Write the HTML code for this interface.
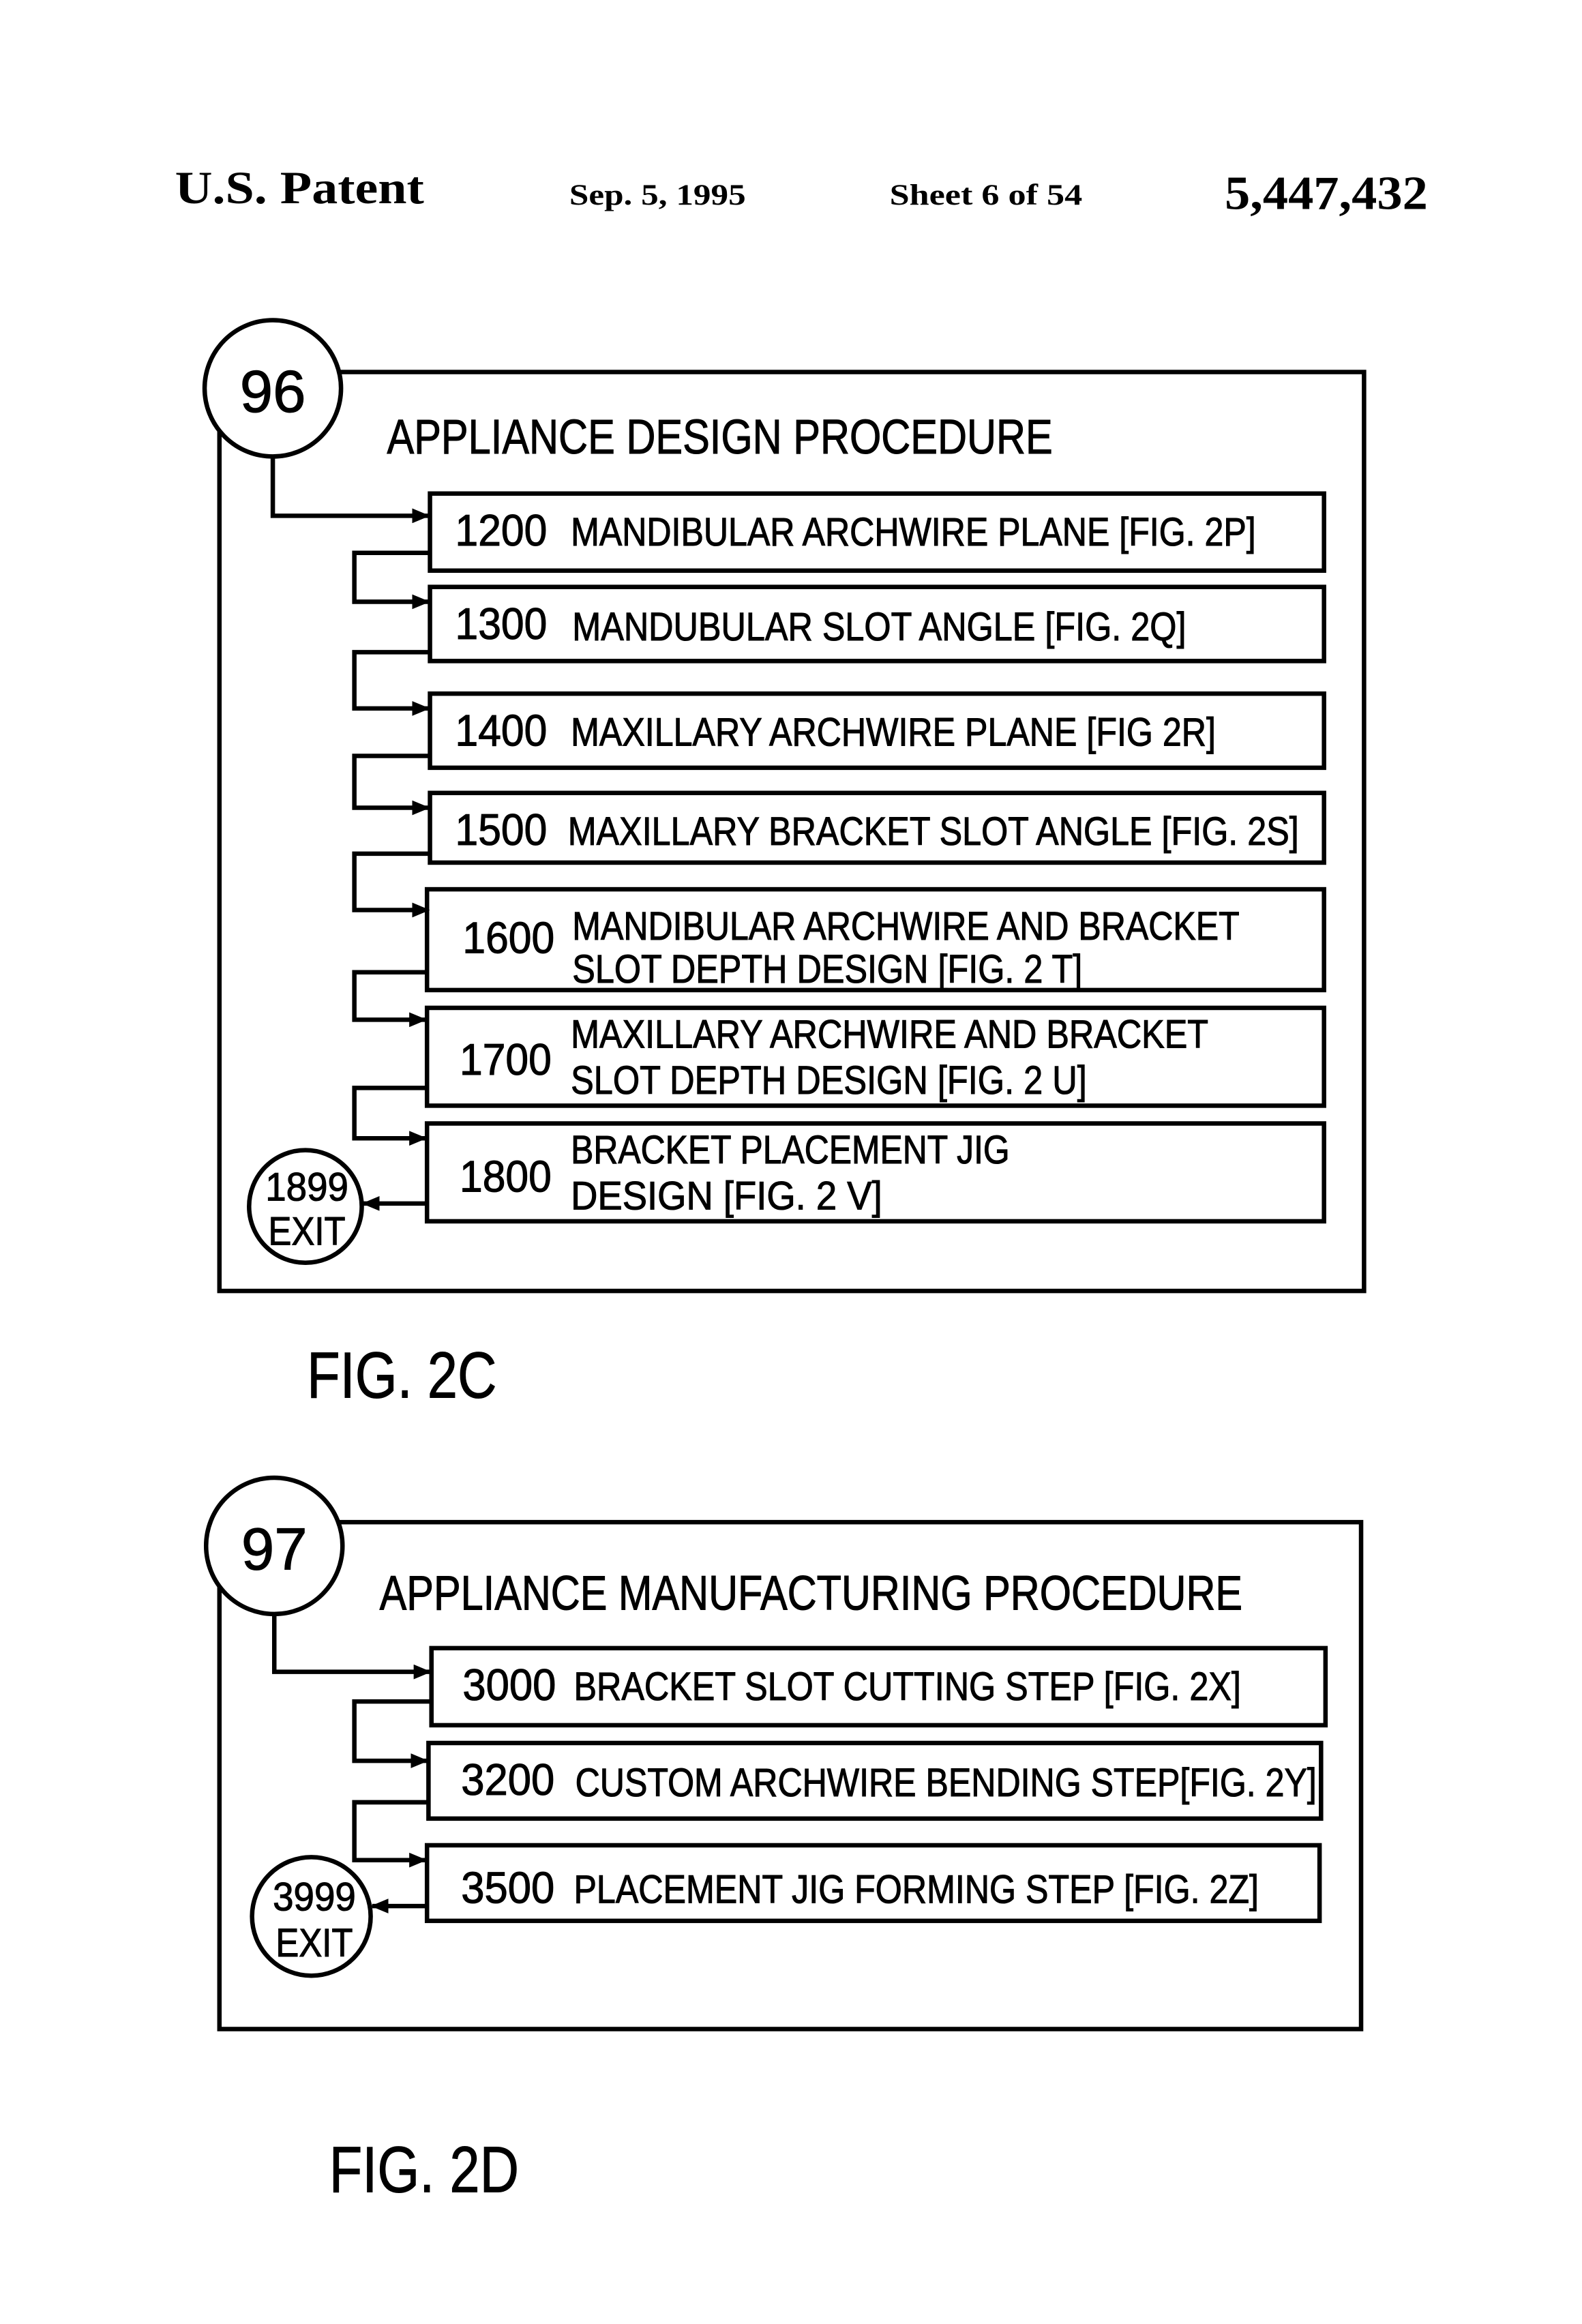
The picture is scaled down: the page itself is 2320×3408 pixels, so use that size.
<!DOCTYPE html>
<html><head><meta charset="utf-8"><style>
html,body{margin:0;padding:0;background:#fff}
svg{display:block}
.n{font-family:"Liberation Sans Narrow","Liberation Sans",sans-serif;fill:#000;stroke:#000;stroke-width:0.5}
.s{font-family:"Liberation Serif",serif;font-weight:bold;fill:#000}
</style></head><body>
<svg width="2320" height="3408" viewBox="0 0 1067 1568" preserveAspectRatio="none" xmlns="http://www.w3.org/2000/svg">
<defs><marker id="a" markerWidth="12" markerHeight="10" refX="11" refY="5" orient="auto" markerUnits="userSpaceOnUse"><path d="M0,0 L12,5 L0,10 z" fill="#000"/></marker></defs>
<text class="s" x="118" y="137" font-size="31" textLength="168" lengthAdjust="spacingAndGlyphs">U.S. Patent</text>
<text class="s" x="384" y="138" font-size="20" textLength="119" lengthAdjust="spacingAndGlyphs">Sep. 5, 1995</text>
<text class="s" x="600" y="138" font-size="20" textLength="130" lengthAdjust="spacingAndGlyphs">Sheet 6 of 54</text>
<text class="s" x="826" y="141" font-size="32" textLength="137" lengthAdjust="spacingAndGlyphs">5,447,432</text>
<g fill="none" stroke="#000" stroke-width="3">
<rect x="148" y="251" width="772" height="620"/>
<rect x="290" y="333" width="603" height="52"/>
<rect x="290" y="396" width="603" height="50"/>
<rect x="290" y="468" width="603" height="50"/>
<rect x="290" y="535" width="603" height="47"/>
<rect x="288" y="600" width="605" height="68"/>
<rect x="288" y="680" width="605" height="66"/>
<rect x="288" y="758" width="605" height="66"/>
<rect x="148" y="1027" width="770" height="342"/>
<rect x="291" y="1112" width="603" height="52"/>
<rect x="289" y="1176" width="602" height="51"/>
<rect x="288" y="1245" width="602" height="51"/>
<path d="M184,308 V348 H289" marker-end="url(#a)"/>
<path d="M290,373 H239 V406 H289" marker-end="url(#a)"/>
<path d="M290,440 H239 V478 H289" marker-end="url(#a)"/>
<path d="M290,510 H239 V545 H289" marker-end="url(#a)"/>
<path d="M290,576 H239 V614 H289" marker-end="url(#a)"/>
<path d="M288,656 H239 V688 H287" marker-end="url(#a)"/>
<path d="M288,734 H239 V768 H287" marker-end="url(#a)"/>
<path d="M288,812 H245" marker-end="url(#a)"/>
<path d="M185,1089 V1128 H290" marker-end="url(#a)"/>
<path d="M291,1148 H239 V1188 H288" marker-end="url(#a)"/>
<path d="M289,1216 H239 V1255 H287" marker-end="url(#a)"/>
<path d="M288,1286 H251" marker-end="url(#a)"/>
</g>
<g fill="#fff" stroke="#000" stroke-width="3">
<circle cx="184" cy="262" r="46"/>
<circle cx="206" cy="814" r="38"/>
<circle cx="185" cy="1043" r="46"/>
<circle cx="210" cy="1293" r="40"/>
</g>
<g class="n">
<text x="184" y="278" font-size="40" text-anchor="middle">96</text>
<text x="185" y="1059" font-size="40" text-anchor="middle">97</text>
<text x="207" y="810" font-size="27" text-anchor="middle" textLength="56" lengthAdjust="spacingAndGlyphs">1899</text>
<text x="207" y="840" font-size="27" text-anchor="middle" textLength="52" lengthAdjust="spacingAndGlyphs">EXIT</text>
<text x="212" y="1289" font-size="27" text-anchor="middle" textLength="56" lengthAdjust="spacingAndGlyphs">3999</text>
<text x="212" y="1320" font-size="27" text-anchor="middle" textLength="52" lengthAdjust="spacingAndGlyphs">EXIT</text>
<text x="261" y="306" font-size="33" textLength="449" lengthAdjust="spacingAndGlyphs">APPLIANCE DESIGN PROCEDURE</text>
<text x="307" y="368" font-size="30" textLength="62" lengthAdjust="spacingAndGlyphs">1200</text>
<text x="385" y="368" font-size="27" textLength="462" lengthAdjust="spacingAndGlyphs">MANDIBULAR ARCHWIRE PLANE [FIG. 2P]</text>
<text x="307" y="431" font-size="30" textLength="62" lengthAdjust="spacingAndGlyphs">1300</text>
<text x="386" y="432" font-size="27" textLength="414" lengthAdjust="spacingAndGlyphs">MANDUBULAR SLOT ANGLE [FIG. 2Q]</text>
<text x="307" y="503" font-size="30" textLength="62" lengthAdjust="spacingAndGlyphs">1400</text>
<text x="385" y="503" font-size="27" textLength="435" lengthAdjust="spacingAndGlyphs">MAXILLARY ARCHWIRE PLANE [FIG 2R]</text>
<text x="307" y="570" font-size="30" textLength="62" lengthAdjust="spacingAndGlyphs">1500</text>
<text x="383" y="570" font-size="27" textLength="493" lengthAdjust="spacingAndGlyphs">MAXILLARY BRACKET SLOT ANGLE [FIG. 2S]</text>
<text x="312" y="643" font-size="30" textLength="62" lengthAdjust="spacingAndGlyphs">1600</text>
<text x="386" y="634" font-size="27" textLength="450" lengthAdjust="spacingAndGlyphs">MANDIBULAR ARCHWIRE AND BRACKET</text>
<text x="386" y="663" font-size="27" textLength="344" lengthAdjust="spacingAndGlyphs">SLOT DEPTH DESIGN [FIG. 2 T]</text>
<text x="310" y="725" font-size="30" textLength="62" lengthAdjust="spacingAndGlyphs">1700</text>
<text x="385" y="707" font-size="27" textLength="430" lengthAdjust="spacingAndGlyphs">MAXILLARY ARCHWIRE AND BRACKET</text>
<text x="385" y="738" font-size="27" textLength="348" lengthAdjust="spacingAndGlyphs">SLOT DEPTH DESIGN [FIG. 2 U]</text>
<text x="310" y="804" font-size="30" textLength="62" lengthAdjust="spacingAndGlyphs">1800</text>
<text x="385" y="785" font-size="27" textLength="296" lengthAdjust="spacingAndGlyphs">BRACKET PLACEMENT JIG</text>
<text x="385" y="816" font-size="27" textLength="210" lengthAdjust="spacingAndGlyphs">DESIGN   [FIG. 2 V]</text>
<text x="207" y="943" font-size="44" textLength="128" lengthAdjust="spacingAndGlyphs">FIG. 2C</text>
<text x="256" y="1086" font-size="33" textLength="582" lengthAdjust="spacingAndGlyphs">APPLIANCE MANUFACTURING PROCEDURE</text>
<text x="312" y="1147" font-size="30" textLength="63" lengthAdjust="spacingAndGlyphs">3000</text>
<text x="387" y="1147" font-size="27" textLength="450" lengthAdjust="spacingAndGlyphs">BRACKET SLOT CUTTING STEP [FIG. 2X]</text>
<text x="311" y="1211" font-size="30" textLength="63" lengthAdjust="spacingAndGlyphs">3200</text>
<text x="388" y="1212" font-size="27" textLength="500" lengthAdjust="spacingAndGlyphs">CUSTOM ARCHWIRE BENDING STEP[FIG. 2Y]</text>
<text x="311" y="1284" font-size="30" textLength="63" lengthAdjust="spacingAndGlyphs">3500</text>
<text x="387" y="1284" font-size="27" textLength="462" lengthAdjust="spacingAndGlyphs">PLACEMENT JIG FORMING STEP [FIG. 2Z]</text>
<text x="222" y="1479" font-size="44" textLength="128" lengthAdjust="spacingAndGlyphs">FIG. 2D</text>
</g>
</svg>
</body></html>
